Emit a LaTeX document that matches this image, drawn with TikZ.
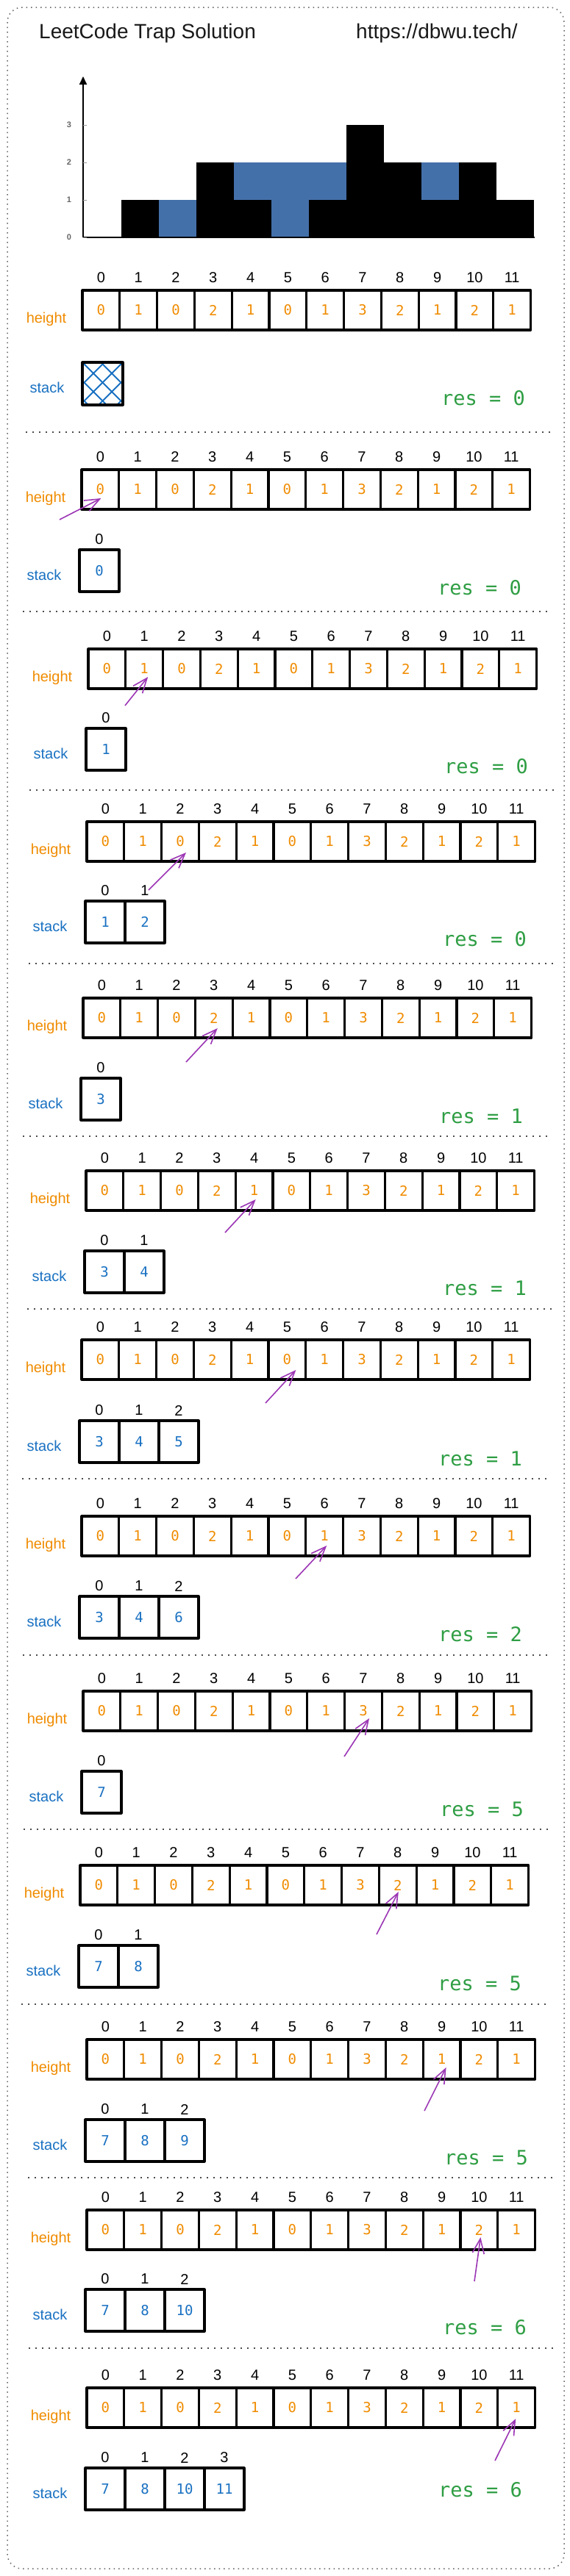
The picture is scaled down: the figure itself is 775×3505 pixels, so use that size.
\documentclass[tikz,border=0pt]{standalone}
\usepackage{fontspec}
\setmainfont{Liberation Sans}
\newfontfamily\monof{DejaVu Sans Mono}
\usetikzlibrary{arrows.meta}
\definecolor{hor}{HTML}{F08C00}
\definecolor{hblue}{HTML}{1971C2}
\definecolor{hgreen}{HTML}{2F9E44}
\definecolor{hpurple}{HTML}{9C36B5}
\definecolor{water}{RGB}{68,112,170}
\tikzset{
  hcell/.style={draw=black, line width=3.2pt, line join=round, inner sep=0pt, minimum width=50.8pt, minimum height=54pt, font=\monof\fontsize{19}{19}\selectfont, text=hor},
  scell/.style={draw=black, line width=3.2pt, line join=round, inner sep=0pt, minimum width=54pt, minimum height=57pt, font=\monof\fontsize{19}{19}\selectfont, text=hblue},
  idx/.style={inner sep=0pt, font=\fontsize{20}{20}\selectfont, text=black},
  hlab/.style={inner sep=0pt, font=\fontsize{20}{20}\selectfont, text=hor},
  slab/.style={inner sep=0pt, font=\fontsize{20}{20}\selectfont, text=hblue},
  reslab/.style={inner sep=0pt, font=\monof\fontsize{27}{27}\selectfont, text=hgreen},
  sepline/.style={draw=black!70, line width=2pt, dash pattern=on 2pt off 7pt},
  framebox/.style={draw=black!60, line width=1.5pt, dash pattern=on 1.5pt off 5pt, rounded corners=20pt},
  ptr/.style={draw=hpurple, line width=1.6pt, -{Straight Barb[length=20pt,width=16pt]}},
  ticklab/.style={inner sep=0pt, font=\fontsize{11}{11}\selectfont\bfseries, text=black!60},
  titlelab/.style={inner sep=0pt, anchor=west, font=\fontsize{28}{28}\selectfont, text=black!90},
}
% height row: #1 id, #2 left, #3 top
\newcommand\hrow[3]{%
  \node[hlab] (hl#1) at ({#2-49},{#3+39.5}) {height};
  \foreach \v [count=\i from 0] in {0,1,0,2,1,0,1,3,2,1,2,1}{
    \node[hcell] (h#1-\i) at ({#2+50.8*(\i+0.5)},{#3+27}) {\v};
    \node[idx] (hi#1-\i) at ({#2+50.8*(\i+0.5)},{#3-17.5}) {\i};
  }
}
% stack row: #1 id, #2 left, #3 top, #4 values
\newcommand\srow[4]{%
  \node[slab] (sl#1) at ({#2-48},{#3+34}) {stack};
  \foreach \v [count=\i from 0] in {#4}{
    \node[scell] (s#1-\i) at ({#2+54*(\i+0.5)},{#3+28.5}) {\v};
    \node[idx] (si#1-\i) at ({#2+54*(\i+0.5)},{#3-14}) {\i};
  }
}
\begin{document}
\begin{tikzpicture}[x=1pt,y=-1pt]
\useasboundingbox (0,0) rectangle (775,3505);
\fill[white] (0,0) rectangle (775,3505);
\draw[framebox] (10,10) rectangle (767,3495);

% title
\node[titlelab] (title) at (53,45) {LeetCode Trap Solution};
\node[titlelab] (url) at (484,45) {https://dbwu.tech/};

% chart
\foreach \h [count=\i from 0] in {0,1,0,2,1,0,1,3,2,1,2,1}{
  \fill[black] ({114+51*\i},323) rectangle ({114+51*(\i+1)},{323-51*\h});
}
\foreach \i/\lo/\hi in {2/0/1,4/1/2,5/0/2,6/1/2,9/1/2}{
  \fill[water] ({114+51*\i},{323-51*\lo}) rectangle ({114+51*(\i+1)},{323-51*\hi});
}
\coordinate (axo) at (113,323);
\coordinate (axtop) at (113,104);
\coordinate (axend) at (727,323);
\draw[line width=2pt] (axo) -- (axend);
\draw[line width=2pt, -{Triangle[length=11pt,width=10pt]}] (axo) -- (axtop);
\foreach \t/\y in {0/323,1/272,2/221,3/170}{
  \draw[black!40, line width=0.8pt] (113,\y) -- (118,\y);
  \node[ticklab] (tick\t) at (94,\y) {\t};
}

% panel 0
\hrow{0}{112}{395}
\begin{scope}
  \clip (112,493) rectangle (167,551);
  \foreach \k in {-75,-50,...,50}{
    \draw[hblue, line width=1.8pt] ({112+\k},493) -- ++(60,60);
    \draw[hblue, line width=1.8pt] ({167-\k},493) -- ++(-60,60);
  }
\end{scope}
\node[draw=black, line width=3.2pt, line join=round, minimum width=55pt, minimum height=58pt, inner sep=0pt] (s0-0) at (139.5,522) {};
\node[slab] (sl0) at (64,527) {stack};
\node[reslab] (r0) at (657,542) {res = 0};
\draw[sepline] (35,588) -- (752,588);

% panel 1
\hrow{1}{111}{639}
\srow{1}{108}{748}{0}
\node[reslab] (r1) at (652,800) {res = 0};
\coordinate (a1) at (81,707);
\draw[ptr] (a1) -- ([shift={(1pt,-12pt)}]h1-0.center);
\draw[sepline] (31,832) -- (748,832);

% panel 2
\hrow{2}{120}{883}
\srow{2}{117}{991}{1}
\node[reslab] (r2) at (661,1043) {res = 0};
\coordinate (a2) at (170,960);
\draw[ptr] (a2) -- ([shift={(5pt,-11pt)}]h2-1.center);
\draw[sepline] (40,1075) -- (757,1075);

% panel 3
\hrow{3}{118}{1118}
\srow{3}{116}{1226}{1,2}
\node[reslab] (r3) at (659,1278) {res = 0};
\coordinate (a3) at (202,1211);
\draw[ptr] (a3) -- ([shift={(8pt,-15pt)}]h3-2.center);
\draw[sepline] (39,1311) -- (755,1311);

% panel 4
\hrow{4}{113}{1358}
\srow{4}{110}{1467}{3}
\node[reslab] (r4) at (654,1519) {res = 1};
\coordinate (a4) at (253,1445);
\draw[ptr] (a4) -- ([shift={(5pt,-14pt)}]h4-3.center);
\draw[sepline] (31,1546) -- (748,1546);

% panel 5
\hrow{5}{117}{1593}
\srow{5}{115}{1702}{3,4}
\node[reslab] (r5) at (659,1753) {res = 1};
\coordinate (a5) at (306,1677);
\draw[ptr] (a5) -- ([shift={(2pt,-12pt)}]h5-4.center);
\draw[sepline] (37,1781) -- (754,1781);

% panel 6
\hrow{6}{111}{1823}
\srow{6}{108}{1933}{3,4,5}
\node[reslab] (r6) at (653,1985) {res = 1};
\coordinate (a6) at (361,1909);
\draw[ptr] (a6) -- ([shift={(12pt,-14pt)}]h6-5.center);
\draw[sepline] (30,2012) -- (748,2012);

% panel 7
\hrow{7}{111}{2063}
\srow{7}{108}{2172}{3,4,6}
\node[reslab] (r7) at (653,2224) {res = 2};
\coordinate (a7) at (402,2148);
\draw[ptr] (a7) -- ([shift={(3pt,-13pt)}]h7-6.center);
\draw[sepline] (31,2252) -- (748,2252);

% panel 8
\hrow{8}{113}{2301}
\srow{8}{111}{2410}{7}
\node[reslab] (r8) at (655,2462) {res = 5};
\coordinate (a8) at (468,2390);
\draw[ptr] (a8) -- ([shift={(8pt,-10pt)}]h8-7.center);
\draw[sepline] (32,2489) -- (748,2489);

% panel 9
\hrow{9}{109}{2538}
\srow{9}{107}{2647}{7,8}
\node[reslab] (r9) at (652,2699) {res = 5};
\coordinate (a9) at (512,2632);
\draw[ptr] (a9) -- ([shift={(1pt,-9pt)}]h9-8.center);
\draw[sepline] (29,2727) -- (745,2727);

% panel 10
\hrow{10}{118}{2775}
\srow{10}{116}{2884}{7,8,9}
\node[reslab] (r10) at (661,2936) {res = 5};
\coordinate (a10) at (577,2872);
\draw[ptr] (a10) -- ([shift={(6pt,-11pt)}]h10-9.center);
\draw[sepline] (38,2963) -- (754,2963);

% panel 11
\hrow{11}{118}{3007}
\srow{11}{116}{3115}{7,8,10}
\node[reslab] (r11) at (659,3167) {res = 6};
\coordinate (a11) at (645,3104);
\draw[ptr] (a11) -- ([shift={(2pt,-10pt)}]h11-10.center);
\draw[sepline] (39,3195) -- (755,3195);

% panel 12
\hrow{12}{118}{3249}
\srow{12}{116}{3358}{7,8,10,11}
\node[reslab] (r12) at (653,3388) {res = 6};
\coordinate (a12) at (673,3348);
\draw[ptr] (a12) -- ([shift={(-1pt,-15pt)}]h12-11.center);
\end{tikzpicture}
\end{document}
